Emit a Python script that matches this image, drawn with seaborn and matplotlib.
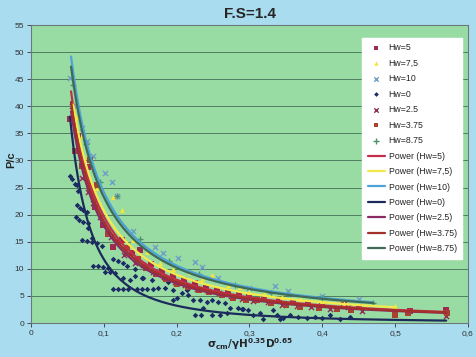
import numpy as np
import pandas as pd
import matplotlib
matplotlib.use("Agg")
import matplotlib.pyplot as plt
import seaborn as sns

# ---------------- data ----------------
hw0_x = [0.054, 0.056, 0.060, 0.063, 0.065, 0.063, 0.067, 0.071, 0.077, 0.062, 0.066, 0.071, 0.078,
         0.078, 0.070, 0.077, 0.084, 0.091, 0.084, 0.098, 0.085, 0.092, 0.099, 0.106, 0.102, 0.108,
         0.115, 0.113, 0.119, 0.126, 0.132, 0.143, 0.126, 0.136, 0.143, 0.152, 0.113, 0.119, 0.126,
         0.133, 0.145, 0.152, 0.154, 0.166, 0.159, 0.168, 0.174, 0.184, 0.188, 0.195, 0.200, 0.207,
         0.216, 0.222, 0.232, 0.241, 0.248, 0.257, 0.266, 0.273, 0.236, 0.225, 0.234, 0.248, 0.259,
         0.269, 0.284, 0.291, 0.214, 0.195, 0.290, 0.298, 0.305, 0.314, 0.319, 0.332, 0.338, 0.342,
         0.346, 0.356, 0.367, 0.379, 0.390, 0.400, 0.411, 0.424, 0.438]
hw0_y = [27.2, 26.6, 25.7, 25.4, 24.4, 21.7, 21.3, 20.9, 20.4, 19.5, 19.1, 18.6, 18.4,
         17.5, 15.3, 15.1, 14.9, 14.7, 15.6, 14.3, 10.5, 10.5, 10.3, 10.1, 9.4, 9.4,
         9.2, 11.8, 11.4, 11.0, 10.5, 9.9, 8.3, 7.9, 8.6, 8.3, 6.2, 6.2, 6.2,
         6.2, 6.2, 6.2, 8.3, 7.9, 6.2, 6.2, 6.4, 6.4, 7.5, 6.1, 4.6, 5.5,
         5.1, 4.2, 4.2, 3.9, 4.2, 3.9, 3.7, 2.8, 2.8, 1.5, 1.5, 1.5, 1.5,
         1.8, 2.8, 2.6, 6.1, 4.2, 2.6, 2.4, 1.5, 1.8, 0.7, 2.4, 1.5, 0.7,
         0.9, 1.5, 1.1, 0.9, 1.1, 0.9, 1.5, 0.7, 1.1]

hw5_x = [0.054, 0.065, 0.078, 0.088, 0.099, 0.113, 0.125, 0.139, 0.150, 0.165, 0.180, 0.195, 0.210,
         0.225, 0.240, 0.255, 0.270, 0.285, 0.300, 0.320, 0.340, 0.360, 0.380, 0.400, 0.430, 0.450,
         0.500, 0.520, 0.570]
hw5_y = [37.7, 34.6, 28.7, 21.5, 18.0, 14.0, 15.3, 12.9, 13.4, 10.8, 9.6, 8.6, 7.9,
         7.4, 6.4, 6.1, 5.6, 5.3, 5.0, 4.6, 4.2, 3.9, 3.6, 3.4, 3.4, 3.0,
         2.0, 2.3, 2.4]

hw375_x = [0.060, 0.070, 0.081, 0.091, 0.106, 0.120, 0.132, 0.147, 0.158, 0.172, 0.186, 0.200, 0.215,
           0.230, 0.245, 0.262, 0.278, 0.295, 0.310, 0.330, 0.350, 0.370, 0.395, 0.420, 0.440, 0.500,
           0.518, 0.571]
hw375_y = [31.8, 28.9, 30.0, 25.4, 16.5, 15.0, 13.8, 11.9, 10.2, 9.0, 8.2, 7.2, 6.6,
           6.0, 5.7, 5.2, 4.7, 4.3, 4.2, 3.6, 3.3, 3.0, 2.7, 2.5, 2.4, 1.5,
           1.8, 1.8]

hw25_x = [0.056, 0.070, 0.078, 0.085, 0.095, 0.110, 0.128, 0.143, 0.154, 0.168, 0.183, 0.198, 0.212,
          0.228, 0.243, 0.258, 0.275, 0.290, 0.305, 0.325, 0.345, 0.365, 0.385, 0.410, 0.435, 0.455,
          0.570]
hw25_y = [40.0, 26.8, 24.2, 22.2, 19.5, 15.8, 12.5, 11.0, 10.7, 9.4, 8.5, 7.6, 7.0,
          6.3, 5.9, 5.5, 5.0, 4.5, 4.0, 3.8, 3.4, 3.1, 2.9, 2.6, 2.9, 2.2,
          1.3]

hw75_x = [0.062, 0.070, 0.078, 0.090, 0.100, 0.113, 0.125, 0.140, 0.159, 0.177, 0.195, 0.218, 0.235,
          0.248, 0.270, 0.287, 0.300, 0.320, 0.345, 0.370, 0.400, 0.430, 0.460, 0.500]
hw75_y = [38.0, 34.6, 30.9, 25.0, 24.0, 23.2, 20.8, 15.3, 13.1, 11.0, 9.9, 9.4, 8.2,
          8.8, 7.0, 6.6, 5.7, 5.5, 4.8, 4.4, 4.0, 3.6, 3.2, 3.1]

hw10_x = [0.053, 0.060, 0.070, 0.077, 0.085, 0.102, 0.111, 0.118, 0.140, 0.170, 0.181, 0.202, 0.225,
          0.235, 0.257, 0.300, 0.335, 0.353, 0.400, 0.450]
hw10_y = [45.2, 40.0, 36.0, 33.6, 30.9, 27.6, 26.0, 23.5, 17.0, 14.0, 12.9, 12.0, 11.2,
          10.3, 8.3, 6.5, 6.8, 5.9, 4.9, 4.4]

hw875_x = [0.058, 0.075, 0.095, 0.118, 0.150, 0.190, 0.230, 0.280, 0.330, 0.400, 0.470]
hw875_y = [44.0, 33.0, 26.0, 23.5, 15.5, 11.5, 9.0, 7.0, 5.6, 4.6, 3.6]

# power trendlines y = a * x^b
series_keys = ["5", "7.5", "10", "0", "2.5", "3.75", "8.75"]
point_labels = ["Hw=5", "Hw=7,5", "Hw=10", "Hw=0", "Hw=2.5", "Hw=3.75", "Hw=8.75"]
line_labels = ["Power (Hw=5)", "Power (Hw=7,5)", "Power (Hw=10)", "Power (Hw=0)",
               "Power (Hw=2.5)", "Power (Hw=3.75)", "Power (Hw=8.75)"]
power_a = [0.985, 1.25, 1.559, 0.155, 0.90, 0.94, 1.50]
power_b = [-1.30, -1.22, -1.19, -1.88, -1.30, -1.30, -1.19]
power_xmin = [0.055, 0.058, 0.055, 0.0535, 0.055, 0.055, 0.055]
power_xmax = [0.570, 0.500, 0.470, 0.570, 0.570, 0.570, 0.470]

x_ticks = [0, 0.1, 0.2, 0.3, 0.4, 0.5, 0.6]
x_tick_labels = ["0", "0,1", "0,2", "0,3", "0,4", "0,5", "0,6"]
y_ticks = [0, 5, 10, 15, 20, 25, 30, 35, 40, 45, 50, 55]

# ---------------- styling ----------------
point_data = [(hw5_x, hw5_y), (hw75_x, hw75_y), (hw10_x, hw10_y), (hw0_x, hw0_y),
              (hw25_x, hw25_y), (hw375_x, hw375_y), (hw875_x, hw875_y)]
markers = ["s", "^", "x", "D", "x", "s", "+"]
msizes = [13, 14, 14, 8, 14, 13, 18]
pcolors = ["#9e2a4e", "#f2e63a", "#6f9fc4", "#1c2a66", "#8e2f56", "#a8412f", "#4f8f6a"]
lcolors = ["#c22f4a", "#f4ea4a", "#4ea2d6", "#1c2a5c", "#8a2a62", "#a3302a", "#3e6a56"]

sns.set_theme(style="white")
plt.rcParams['font.family'] = ['Liberation Sans', 'DejaVu Sans']

fig = plt.figure(figsize=(4.77, 3.57), dpi=100)
fig.patch.set_facecolor("#aadcf0")
ax = fig.add_axes([31/477, 1 - 323/357, (468 - 31)/477, (323 - 25)/357])
ax.set_facecolor("#98dca4")

for i, (px, py) in enumerate(point_data):
    df = pd.DataFrame({"x": px, "y": py})
    kw = dict(linewidth=1.0) if markers[i] in ("x", "+") else dict(linewidth=0)
    sns.scatterplot(data=df, x="x", y="y", ax=ax, marker=markers[i], s=msizes[i],
                    color=pcolors[i], label=point_labels[i], zorder=3, **kw)

for i in range(len(series_keys)):
    xs = np.geomspace(power_xmin[i], power_xmax[i], 200)
    ys = power_a[i] * xs ** power_b[i]
    sns.lineplot(x=xs, y=ys, ax=ax, color=lcolors[i], linewidth=1.6,
                 label=line_labels[i], zorder=4, sort=False)

ax.set_xlim(0, 0.6)
ax.set_ylim(0, 55)
ax.set_xticks(x_ticks)
ax.set_xticklabels(x_tick_labels)
ax.set_yticks(y_ticks)
ax.grid(axis="y", color="#4f7f5f", linewidth=0.7)
ax.grid(axis="x", visible=False)
ax.set_axisbelow(True)
ax.tick_params(axis="both", labelsize=6, colors="#333333", length=3, direction="out",
               left=True, bottom=True, width=0.6, pad=2)
for s in ax.spines.values():
    s.set_color("#6a7a7a")
    s.set_linewidth(0.8)

ax.set_xlabel("")
ax.set_ylabel("")
fig.text(250/477, 1 - 344/357, r"$\mathbf{\sigma_{cm}/\gamma H^{0.35}D^{0.65}}$",
         ha="center", va="center", fontsize=7.5)
fig.text(11/477, 1 - 160/357, "P/c", ha="center", va="center", rotation=90,
         fontsize=8, fontweight="bold")
fig.text(250/477, 1 - 14/357, "F.S=1.4", ha="center", va="center", fontsize=11, fontweight="bold")

leg = ax.legend(loc="upper right", bbox_to_anchor=(462/477, 1 - 38/357),
                bbox_transform=fig.transFigure, fontsize=6.3, frameon=True,
                fancybox=False, framealpha=1, edgecolor="white", facecolor="white",
                borderpad=0.6, labelspacing=0.74, handlelength=2.0, handletextpad=0.4,
                borderaxespad=0, markerscale=0.85)
leg.set_zorder(10)

fig.savefig("out.png", dpi=100, facecolor=fig.get_facecolor())
